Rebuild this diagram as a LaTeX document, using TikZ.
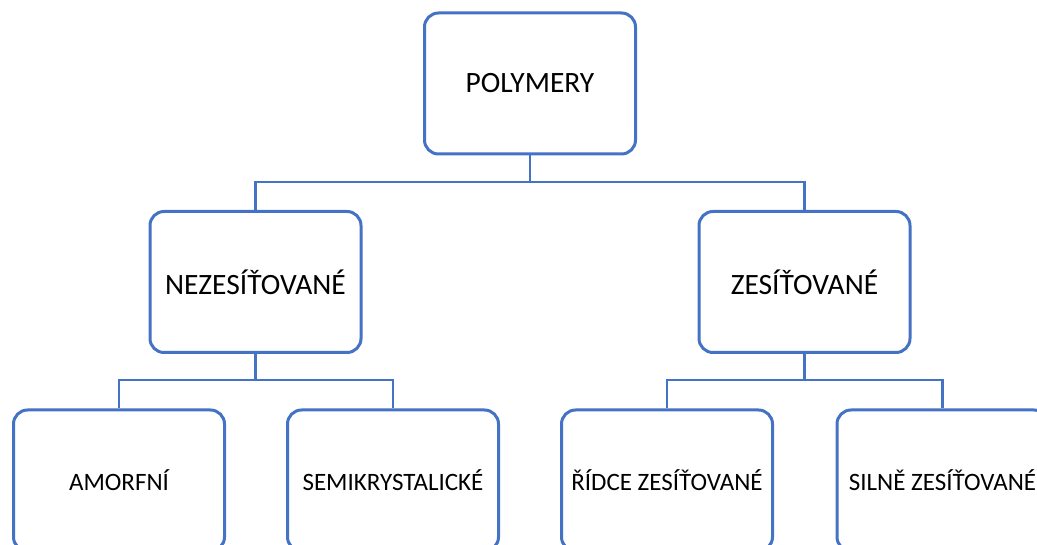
\documentclass[tikz,border=0pt]{standalone}
\usepackage{fontspec}
\setmainfont{Carlito}
\definecolor{boxblue}{RGB}{68,114,196}
\tikzset{
  bigbox/.style={draw=boxblue, line width=3pt, rounded corners=14pt, fill=white,
    minimum width=211pt, minimum height=141pt, inner sep=0pt, font=\fontsize{29.5}{33}\selectfont, text=black},
  smallbox/.style={bigbox, font=\fontsize{25}{29}\selectfont},
  conn/.style={draw=boxblue, line width=2.2pt}
}
\begin{document}
\begin{tikzpicture}[x=1pt,y=-1pt]
\clip (0,0) rectangle (1037,545);
\useasboundingbox (0,0) rectangle (1037,545);
\node[bigbox] (P) at (530,83.5) {POLYMERY};
\node[bigbox] (N) at (255.5,282) {NEZESÍŤOVANÉ};
\node[bigbox] (Z) at (804.5,282) {ZESÍŤOVANÉ};
\node[smallbox] (A) at (119,480.5) {AMORFNÍ};
\node[smallbox] (S) at (393,480.5) {SEMIKRYSTALICKÉ};
\node[smallbox] (R) at (667,480.5) {ŘÍDCE ZESÍŤOVANÉ};
\node[smallbox] (L) at (942.5,480.5) {SILNĚ ZESÍŤOVANÉ};
\coordinate (h1) at (530,182);
\coordinate (h2) at (255.5,380);
\coordinate (h3) at (804.5,380);
\draw[conn] (P.south) -- (h1);
\draw[conn] (N.north) |- (h1) -| (Z.north);
\draw[conn] (N.south) -- (h2);
\draw[conn] (A.north) |- (h2) -| (S.north);
\draw[conn] (Z.south) -- (h3);
\draw[conn] (R.north) |- (h3) -| (L.north);
\end{tikzpicture}
\end{document}
